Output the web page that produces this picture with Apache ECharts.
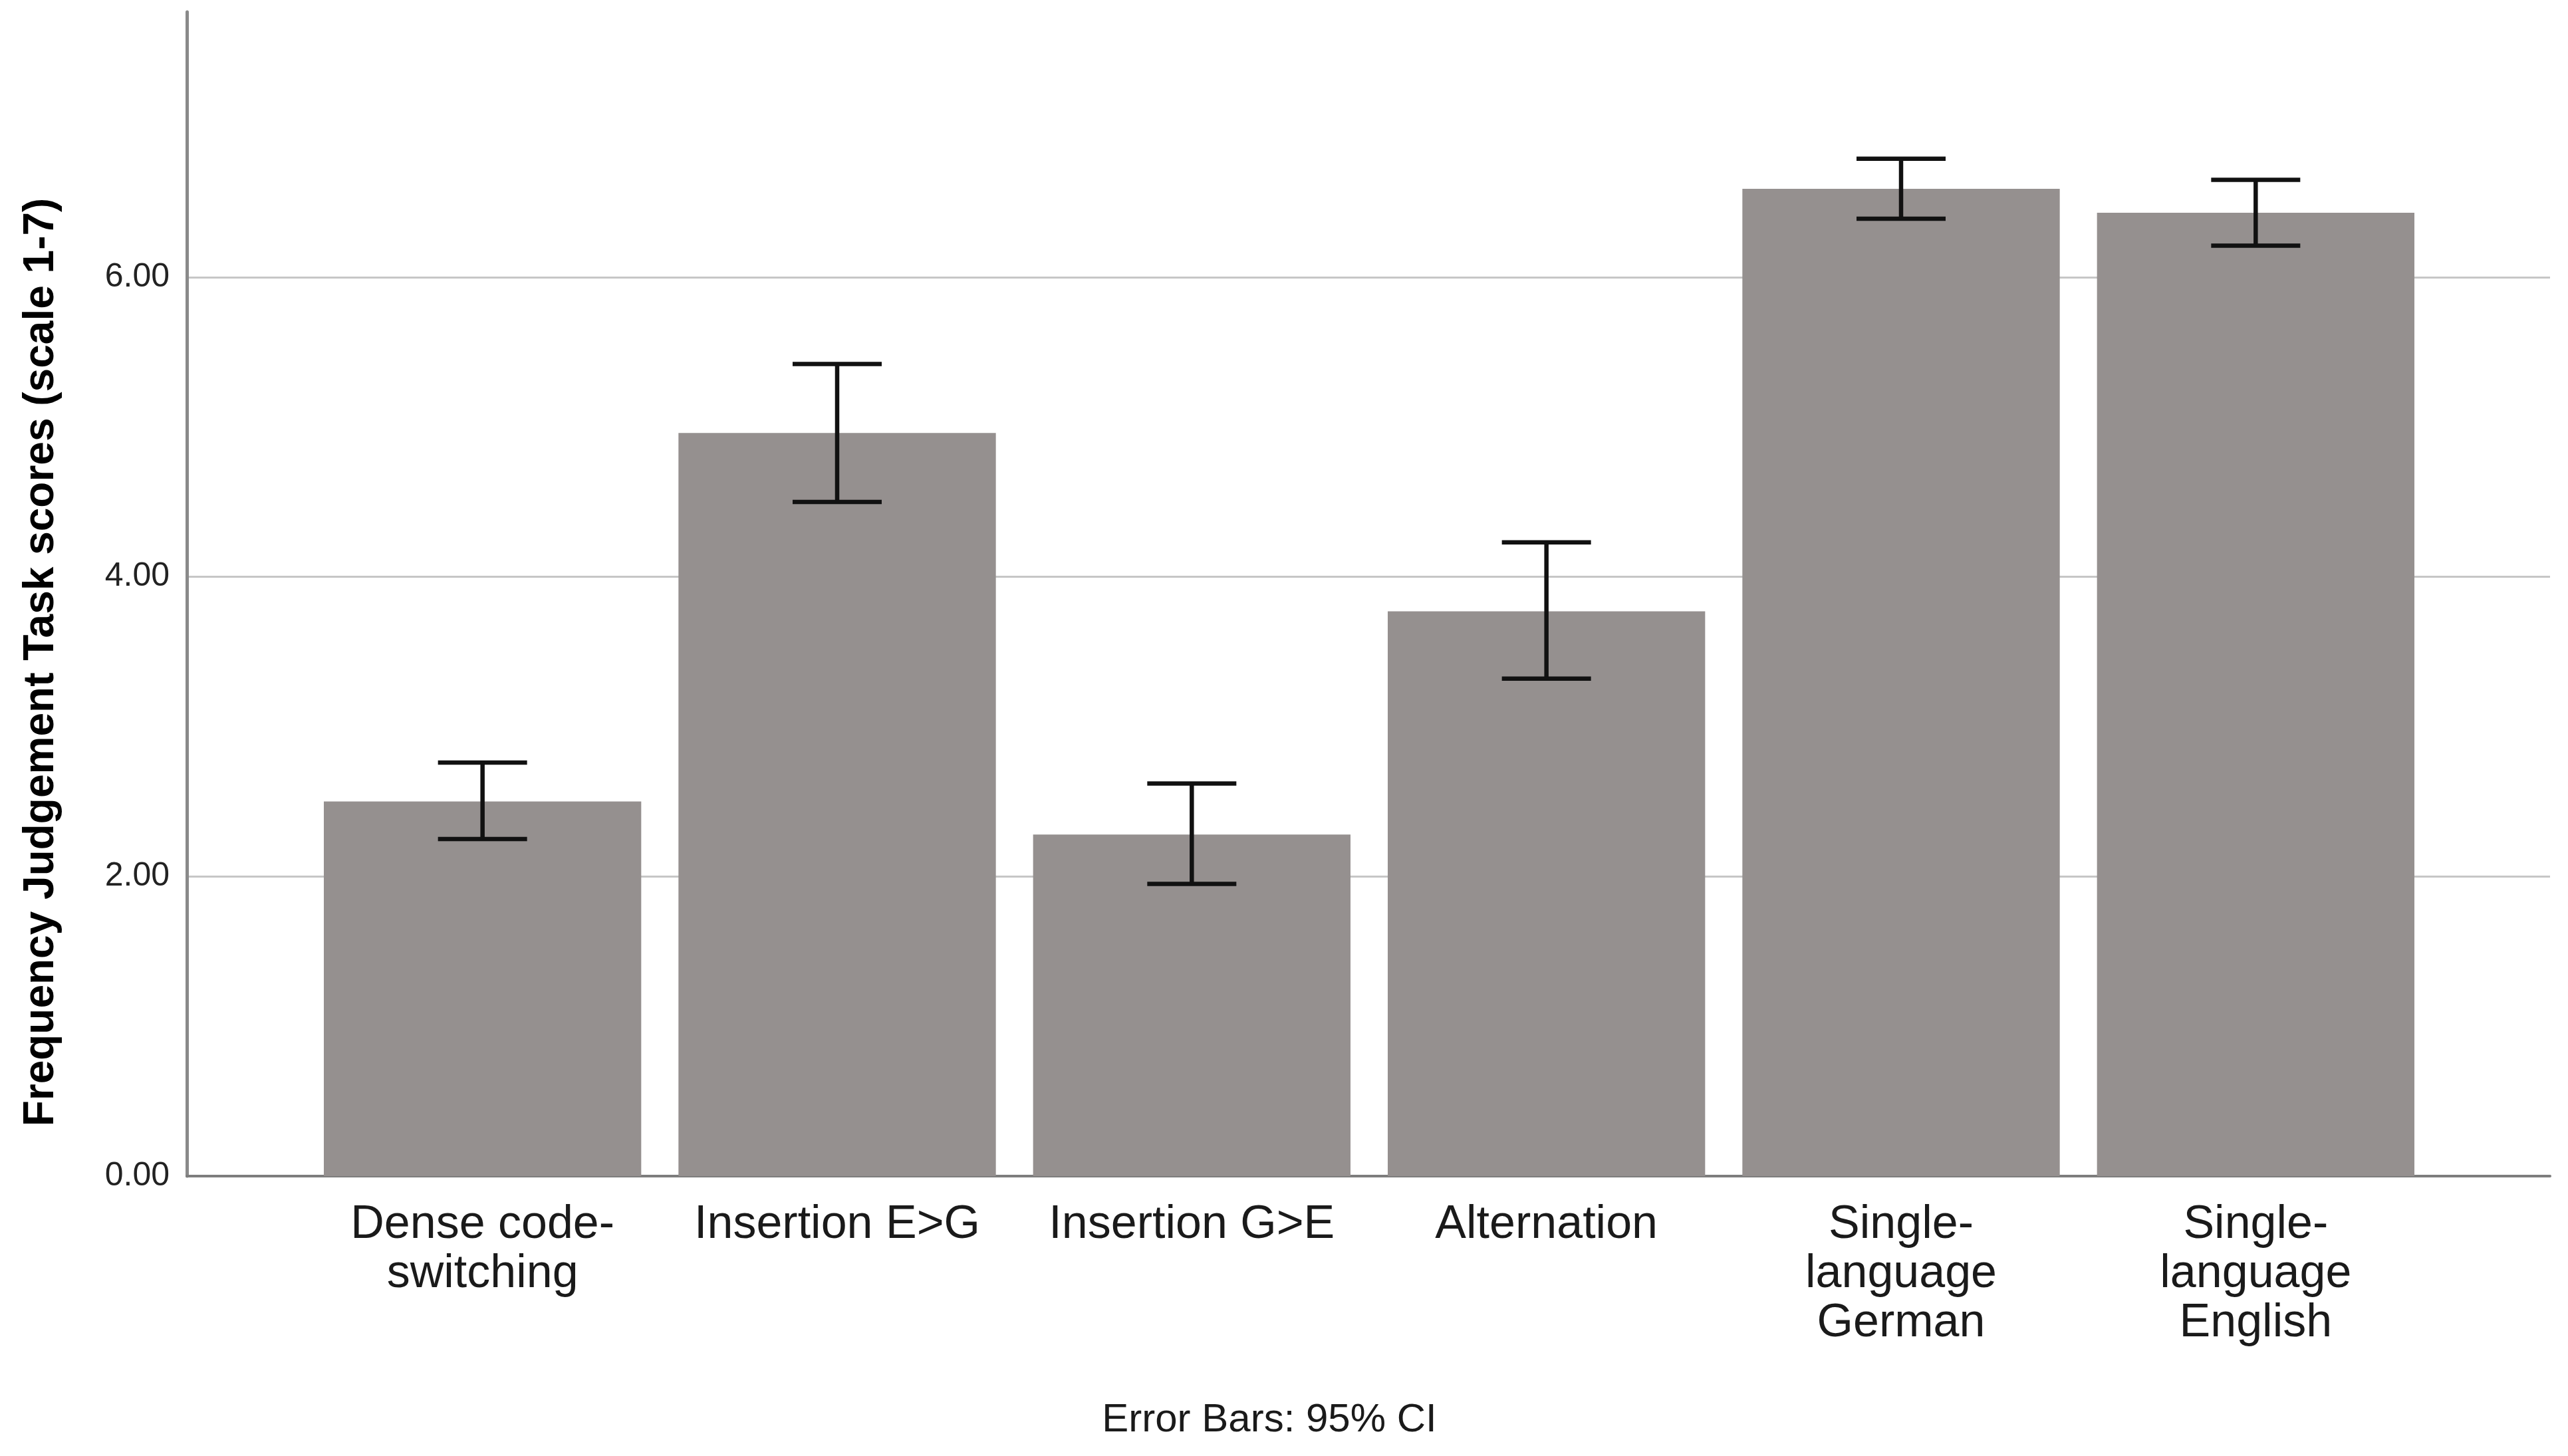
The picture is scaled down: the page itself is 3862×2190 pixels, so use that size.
<!DOCTYPE html>
<html>
<head>
<meta charset="utf-8">
<script src="https://cdn.jsdelivr.net/npm/echarts@6/dist/echarts.min.js"></script>
<style>
html,body{margin:0;padding:0;background:#fff;}
#chart{width:3862px;height:2190px;}
</style>
</head>
<body>
<div id="chart"></div>
<script>
const categories = ['Dense code-\nswitching', 'Insertion E>G', 'Insertion G>E', 'Alternation', 'Single-\nlanguage\nGerman', 'Single-\nlanguage\nEnglish'];
const means  = [2.50, 4.96, 2.28, 3.77, 6.59, 6.43];
const ciLow  = [2.25, 4.50, 1.95, 3.32, 6.39, 6.21];
const ciHigh = [2.76, 5.42, 2.62, 4.23, 6.79, 6.65];
const yTicks = [0, 2, 4, 6];
const yMax = 7.77;
const yTitle = 'Frequency Judgement Task scores (scale 1-7)';
const footnote = 'Error Bars: 95% CI';

const FONT = "'Liberation Sans', Arial, sans-serif";
const chart = echarts.init(document.getElementById('chart'));

const errData = categories.map((c, i) => [i, ciLow[i], ciHigh[i]]);

const option = {
  backgroundColor: '#ffffff',
  animation: false,
  grid: [
    { left: 281, right: 27, top: 18, bottom: 421 },
    { left: 459, right: 203, top: 18, bottom: 421 }
  ],
  xAxis: [
    {
      gridIndex: 0, type: 'value', min: 0, max: 1,
      axisLine: { show: true, lineStyle: { color: '#7d7d7d', width: 4 } },
      axisTick: { show: false }, axisLabel: { show: false }, splitLine: { show: false }
    },
    {
      gridIndex: 1, type: 'category', data: categories,
      axisLine: { show: false }, axisTick: { show: false },
      axisLabel: {
        interval: 0, margin: 37, fontFamily: FONT, fontSize: 70, lineHeight: 74,
        color: '#1a1a1a', align: 'center', verticalAlign: 'top'
      }
    }
  ],
  yAxis: [
    {
      gridIndex: 0, type: 'value', min: 0, max: yMax, interval: 2,
      axisLine: { show: true, lineStyle: { color: '#8a8a8a', width: 5 } },
      axisTick: { show: false },
      axisLabel: {
        fontFamily: FONT, fontSize: 50, color: '#222', margin: 26,
        padding: [12, 0, 0, 0],
        showMaxLabel: false,
        formatter: v => (yTicks.indexOf(v) >= 0 ? v.toFixed(2) : '')
      },
      splitLine: { show: true, showMinLine: false, showMaxLine: false, lineStyle: { color: '#c6c6c6', width: 3 } }
    },
    {
      gridIndex: 1, type: 'value', min: 0, max: yMax, interval: 2, show: false,
      splitLine: { show: false }
    }
  ],
  series: [
    {
      type: 'bar', xAxisIndex: 1, yAxisIndex: 1, data: means,
      barCategoryGap: '10.5%',
      itemStyle: { color: '#95908f' },
      z: 2
    },
    {
      type: 'custom', xAxisIndex: 1, yAxisIndex: 1, data: errData, z: 5,
      renderItem: function (params, api) {
        const idx = api.value(0);
        const top = api.coord([idx, api.value(2)]);
        const bot = api.coord([idx, api.value(1)]);
        const hw = 67;
        const style = { stroke: '#111', lineWidth: 6.5, fill: null };
        return {
          type: 'group',
          children: [
            { type: 'line', shape: { x1: top[0], y1: top[1], x2: bot[0], y2: bot[1] }, style: style },
            { type: 'line', shape: { x1: top[0] - hw, y1: top[1], x2: top[0] + hw, y2: top[1] }, style: style },
            { type: 'line', shape: { x1: bot[0] - hw, y1: bot[1], x2: bot[0] + hw, y2: bot[1] }, style: style }
          ]
        };
      }
    }
  ],
  graphic: [
    {
      type: 'text', x: 62, y: 996, rotation: Math.PI / 2,
      style: {
        text: yTitle, fontFamily: FONT, fontWeight: 'bold', fontSize: 64,
        fill: '#000', align: 'center', verticalAlign: 'middle'
      }
    },
    {
      type: 'text', x: 1909, y: 2136,
      style: {
        text: footnote, fontFamily: FONT, fontSize: 60,
        fill: '#1a1a1a', align: 'center', verticalAlign: 'middle'
      }
    }
  ]
};
chart.setOption(option);
</script>
</body>
</html>
